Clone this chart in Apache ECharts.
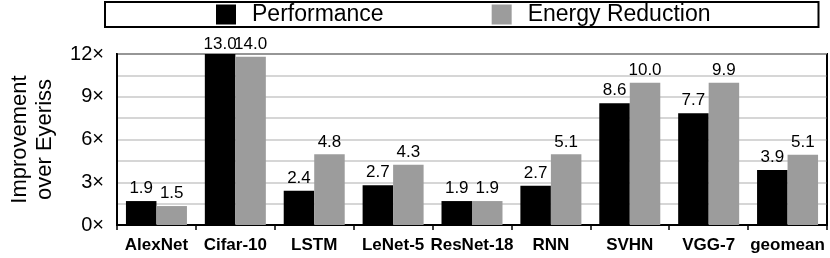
<!DOCTYPE html>
<html>
<head>
<meta charset="utf-8">
<script src="https://cdn.jsdelivr.net/npm/echarts@6/dist/echarts.min.js"></script>
<style>
html,body{margin:0;padding:0;background:#fff;}
#chart{width:830px;height:258px;}
</style>
</head>
<body>
<div id="chart"></div>
<script>
var categories = ['AlexNet', 'Cifar-10', 'LSTM', 'LeNet-5', 'ResNet-18', 'RNN', 'SVHN', 'VGG-7', 'geomean'];
// drawn bar heights (Cifar-10 bars clipped at the 12x top)
var perfHeights = [1.68, 12, 2.41, 2.79, 1.68, 2.76, 8.54, 7.84, 3.86];
var energyHeights = [1.33, 11.8, 4.96, 4.23, 1.68, 4.96, 9.99, 9.99, 4.93];
// printed value labels
var perfLabels = ['1.9', '13.0', '2.4', '2.7', '1.9', '2.7', '8.6', '7.7', '3.9'];
var energyLabels = ['1.5', '14.0', '4.8', '4.3', '1.9', '5.1', '10.0', '9.9', '5.1'];
var yTicks = [0, 3, 6, 9, 12];

var FONT = '"Liberation Sans", Arial, Helvetica, sans-serif';

function buildData(heights, labels, clipDistance) {
  return heights.map(function (h, i) {
    var item = { value: h, labelText: labels[i] };
    if (i === 1) item.label = { distance: clipDistance };
    return item;
  });
}

var chart = echarts.init(document.getElementById('chart'), null, { renderer: 'canvas' });
var labelStyle = {
  show: true,
  position: 'top',
  distance: 4,
  fontFamily: FONT,
  fontSize: 17,
  color: '#000',
  formatter: function (p) { return p.data.labelText; }
};

chart.setOption({
  animation: false,
  backgroundColor: '#fff',
  legend: {
    left: 105,
    top: 2,
    padding: [1, 108, 1, 111],
    borderColor: '#000',
    borderWidth: 2,
    itemWidth: 20,
    itemHeight: 20,
    itemGap: 108,
    icon: 'rect',
    textStyle: { fontFamily: FONT, fontSize: 23, color: '#000', padding: [0, 0, 0, 11] },
    data: ['Performance', 'Energy Reduction']
  },
  grid: {
    left: 110.7,
    right: 3,
    top: 54,
    bottom: 33,
    show: true,
    borderColor: '#000',
    borderWidth: 2
  },
  xAxis: {
    type: 'category',
    data: categories,
    axisLine: { show: true, lineStyle: { color: '#000', width: 2 } },
    axisTick: { show: true, length: 5, lineStyle: { color: '#000', width: 1.5 }, interval: 0 },
    axisLabel: { interval: 0, margin: 12, fontFamily: FONT, fontSize: 17, fontWeight: 'bold', color: '#000' },
    splitLine: {
      show: true,
      interval: function (index) { return index === 8; },
      lineStyle: { color: '#000', width: 1.5 }
    }
  },
  yAxis: {
    type: 'value',
    min: 0,
    max: 12,
    interval: 1.5,
    name: 'Improvement\nover Eyeriss',
    nameLocation: 'middle',
    nameGap: 60,
    nameTextStyle: { fontFamily: FONT, fontSize: 22, color: '#000', lineHeight: 24.5 },
    axisLine: { show: true, lineStyle: { color: '#000', width: 2 } },
    axisTick: { show: false },
    axisLabel: {
      margin: 13,
      fontFamily: FONT,
      fontSize: 20,
      color: '#000',
      formatter: function (v) { return yTicks.indexOf(v) >= 0 ? v + '×' : ''; }
    },
    splitLine: { show: true, lineStyle: { color: '#c8c8c8', width: 1.5 } }
  },
  series: [
    {
      name: 'Performance',
      type: 'bar',
      barWidth: 30.5,
      barGap: 0,
      itemStyle: { color: '#000' },
      label: labelStyle,
      data: buildData(perfHeights, perfLabels, 1)
    },
    {
      name: 'Energy Reduction',
      type: 'bar',
      barWidth: 30.5,
      barGap: 0,
      itemStyle: { color: '#9c9c9c' },
      label: labelStyle,
      data: buildData(energyHeights, energyLabels, 4)
    }
  ]
});
</script>
</body>
</html>
